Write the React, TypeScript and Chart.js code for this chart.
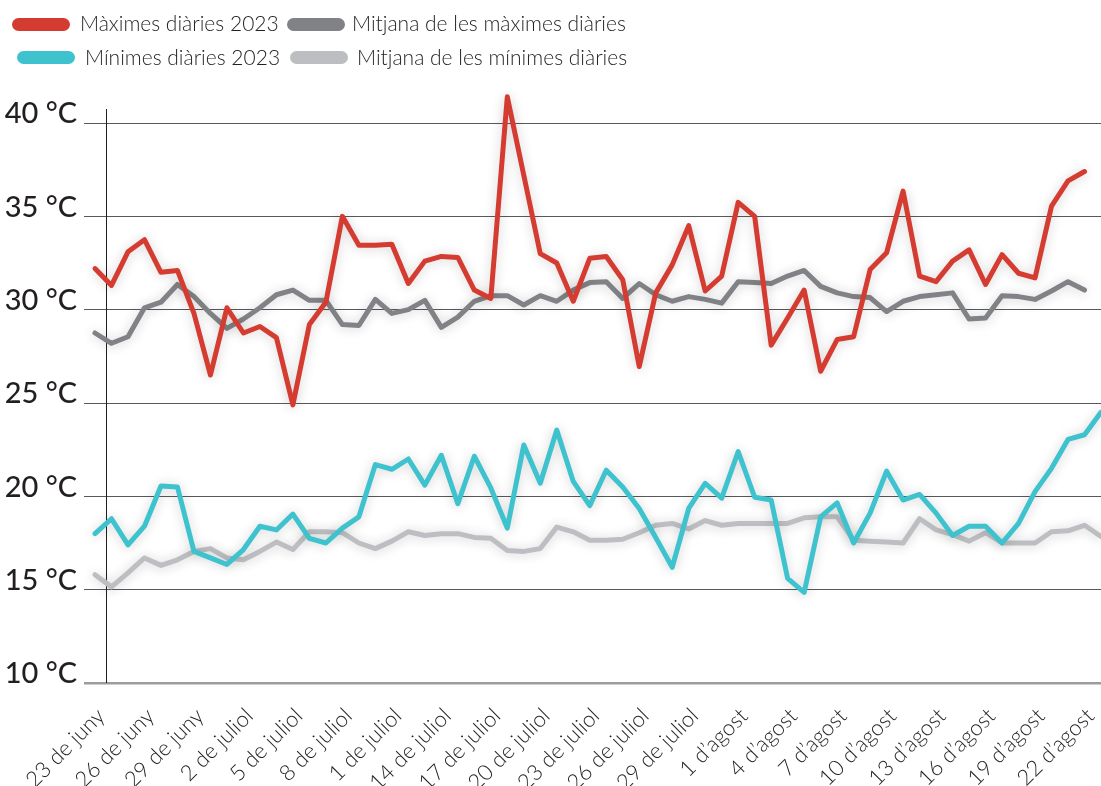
import React, { useEffect, useRef } from "react";
import { Chart, registerables } from "chart.js";

Chart.register(...registerables);

// 23 de juny .. 23 d'agost 2023 (one entry per day)
const days = [
  "23/6", "24/6", "25/6", "26/6", "27/6", "28/6", "29/6", "30/6",
  "1/7", "2/7", "3/7", "4/7", "5/7", "6/7", "7/7", "8/7", "9/7", "10/7", "11/7", "12/7",
  "13/7", "14/7", "15/7", "16/7", "17/7", "18/7", "19/7", "20/7", "21/7", "22/7", "23/7",
  "24/7", "25/7", "26/7", "27/7", "28/7", "29/7", "30/7", "31/7",
  "1/8", "2/8", "3/8", "4/8", "5/8", "6/8", "7/8", "8/8", "9/8", "10/8", "11/8", "12/8",
  "13/8", "14/8", "15/8", "16/8", "17/8", "18/8", "19/8", "20/8", "21/8", "22/8", "23/8",
];

// x tick labels, one every 3 days (as printed in the original)
const tickLabels = [
  "23 de juny", "26 de juny", "29 de juny", "2 de juliol", "5 de juliol", "8 de juliol",
  "1 de juliol", "14 de juliol", "17 de juliol", "20 de juliol", "23 de juliol",
  "26 de juliol", "29 de juliol", "1 d\u2019agost", "4 d\u2019agost", "7 d\u2019agost",
  "10 d\u2019agost", "13 d\u2019agost", "16 d\u2019agost", "19 d\u2019agost", "22 d\u2019agost",
];

const yTicks = [10, 15, 20, 25, 30, 35, 40];

const seriesNames = [
  "M\u00e0ximes di\u00e0ries 2023",
  "M\u00ednimes di\u00e0ries 2023",
  "Mitjana de les m\u00e0ximes di\u00e0ries",
  "Mitjana de les m\u00ednimes di\u00e0ries",
];

const dailyMax = [
  32.2, 31.3, 33.1, 33.75, 32.0, 32.1, 29.8, 26.5, 30.1, 28.75,
  29.1, 28.5, 24.9, 29.2, 30.4, 35.0, 33.45, 33.45, 33.5, 31.4,
  32.6, 32.85, 32.8, 31.05, 30.6, 41.4, 37.2, 33.0, 32.5, 30.45,
  32.75, 32.85, 31.6, 26.95, 30.9, 32.4, 34.5, 31.0, 31.8, 35.75,
  35.0, 28.1, 29.55, 31.05, 26.7, 28.4, 28.55, 32.15, 33.05, 36.35,
  31.8, 31.5, 32.6, 33.2, 31.35, 32.95, 31.95, 31.7, 35.55, 36.9,
  37.4, null,
];

const dailyMin = [
  18.0, 18.8, 17.4, 18.4, 20.55, 20.5, 17.05, 16.7, 16.35, 17.15,
  18.4, 18.2, 19.05, 17.75, 17.5, 18.3, 18.9, 21.7, 21.45, 22.0,
  20.6, 22.2, 19.6, 22.15, 20.45, 18.3, 22.75, 20.7, 23.55, 20.8,
  19.5, 21.4, 20.5, 19.35, 17.8, 16.2, 19.35, 20.7, 19.9, 22.4,
  19.95, 19.8, 15.6, 14.85, 18.9, 19.65, 17.5, 19.1, 21.35, 19.8,
  20.1, 19.1, 17.9, 18.4, 18.4, 17.5, 18.55, 20.25, 21.5, 23.05,
  23.3, 24.5,
];

const meanMax = [
  28.75, 28.2, 28.55, 30.1, 30.4, 31.35, 30.7, 29.8, 29.0, 29.5,
  30.1, 30.8, 31.05, 30.5, 30.5, 29.2, 29.15, 30.55, 29.8, 30.0,
  30.5, 29.05, 29.6, 30.45, 30.75, 30.75, 30.25, 30.75, 30.45, 31.05,
  31.45, 31.5, 30.6, 31.4, 30.8, 30.45, 30.7, 30.55, 30.35, 31.5,
  31.45, 31.4, 31.8, 32.1, 31.25, 30.9, 30.7, 30.65, 29.9, 30.45,
  30.7, 30.8, 30.9, 29.5, 29.55, 30.75, 30.7, 30.55, 31.0, 31.5,
  31.05, null,
];

const meanMin = [
  15.8, 15.15, 15.9, 16.7, 16.3, 16.6, 17.05, 17.2, 16.7, 16.6,
  17.05, 17.55, 17.15, 18.1, 18.1, 18.05, 17.5, 17.2, 17.6, 18.1,
  17.9, 18.0, 18.0, 17.8, 17.75, 17.1, 17.05, 17.2, 18.35, 18.1,
  17.65, 17.65, 17.7, 18.05, 18.45, 18.55, 18.25, 18.7, 18.45, 18.55,
  18.55, 18.55, 18.55, 18.85, 18.9, 18.9, 17.65, 17.6, 17.55, 17.5,
  18.8, 18.2, 17.95, 17.6, 18.05, 17.5, 17.5, 17.5, 18.1, 18.15,
  18.45, 17.85,
];

const RED = "#d53c31";
const CYAN = "#3ec2ce";
const DGRAY = "#808285";
const LGRAY = "#bdbec1";
const INK = "#231f20";
const FONT = "Lato, 'Open Sans', sans-serif";

const shadowPlugin = {
  id: "lineShadow",
  beforeDatasetDraw(chart: any) {
    const ctx = chart.ctx;
    ctx.save();
    ctx.shadowColor = "rgba(0,0,0,0.2)";
    ctx.shadowBlur = 12;
    ctx.shadowOffsetY = 1;
  },
  afterDatasetDraw(chart: any) {
    chart.ctx.restore();
  },
};

const axisLinePlugin = {
  id: "axisLine",
  beforeDatasetsDraw(chart: any) {
    const { ctx, chartArea } = chart;
    const x = Math.round(chartArea.left + 11) + 0.5;
    ctx.save();
    ctx.strokeStyle = INK;
    ctx.lineWidth = 1;
    ctx.beginPath();
    ctx.moveTo(x, chartArea.top);
    ctx.lineTo(x, chartArea.bottom);
    ctx.stroke();
    ctx.restore();
  },
};

function lineDs(label: string, data: (number | null)[], color: string) {
  return {
    label,
    data,
    borderColor: color,
    backgroundColor: color,
    borderWidth: 5,
    pointRadius: 0,
    pointHoverRadius: 0,
    tension: 0,
    borderJoinStyle: "round" as const,
    borderCapStyle: "round" as const,
    clip: false as const,
    fill: false,
  };
}

export default function App() {
  const ref = useRef<HTMLCanvasElement>(null);

  useEffect(() => {
    document.body.style.margin = "0";
    const canvas = ref.current;
    if (!canvas) return;
    const chart = new Chart(canvas, {
      type: "line",
      data: {
        labels: days,
        datasets: [
          lineDs(seriesNames[0], dailyMax, RED),
          lineDs(seriesNames[1], dailyMin, CYAN),
          lineDs(seriesNames[2], meanMax, DGRAY),
          lineDs(seriesNames[3], meanMin, LGRAY),
        ],
      },
      options: {
        responsive: false,
        animation: false,
        events: [],
        layout: { padding: { top: 109, left: 0, right: 0, bottom: 0 } },
        plugins: {
          legend: { display: false },
          tooltip: { enabled: false },
        },
        scales: {
          x: {
            type: "category",
            offset: false,
            grid: { display: false },
            border: { display: false },
            ticks: {
              autoSkip: false,
              maxRotation: 45,
              minRotation: 45,
              padding: 12,
              labelOffset: 6,
              color: INK,
              font: { family: FONT, size: 22, weight: "300" },
              callback: (_v: any, i: number) => (i % 3 === 0 ? tickLabels[i / 3] : null),
            },
            afterFit: (s: any) => {
              s.height = 103;
              s.paddingLeft = 0;
              s.paddingRight = 0;
            },
          },
          y: {
            type: "linear",
            min: 10,
            max: 40.75,
            afterBuildTicks: (s: any) => {
              s.ticks = yTicks.map((v) => ({ value: v }));
            },
            border: { display: false },
            grid: {
              drawTicks: true,
              tickLength: 11,
              color: (c: any) => (c.tick && c.tick.value === 10 ? "#9c9c9c" : "#58595b"),
              lineWidth: (c: any) => (c.tick && c.tick.value === 10 ? 2.5 : 1),
            },
            ticks: {
              padding: 7,
              labelOffset: -9,
              color: INK,
              font: { family: FONT, size: 29, weight: "500" },
              callback: (v: any) => `${v} \u00b0C`,
            },
            afterFit: (s: any) => {
              s.width = 95;
            },
          },
        },
      },
      plugins: [axisLinePlugin, shadowPlugin],
    } as any);
    return () => chart.destroy();
  }, []);

  const marker = (color: string): React.CSSProperties => ({
    position: "absolute",
    width: 58,
    height: 13,
    borderRadius: 7,
    background: color,
  });
  const text: React.CSSProperties = {
    position: "absolute",
    fontFamily: FONT,
    fontSize: 21,
    fontWeight: 300,
    lineHeight: "24px",
    color: INK,
    whiteSpace: "nowrap",
  };

  return (
    <div style={{ position: "relative", width: 1101, height: 786, background: "#fff", overflow: "hidden" }}>
      <canvas ref={ref} width={1101} height={786} style={{ position: "absolute", left: 0, top: 0 }} />
      <div style={{ ...marker(RED), left: 12, top: 18 }} />
      <div style={{ ...text, left: 80, top: 11 }}>{seriesNames[0]}</div>
      <div style={{ ...marker(DGRAY), left: 287, top: 18 }} />
      <div style={{ ...text, left: 352, top: 11 }}>{seriesNames[2]}</div>
      <div style={{ ...marker(CYAN), left: 17, top: 51 }} />
      <div style={{ ...text, left: 85, top: 45 }}>{seriesNames[1]}</div>
      <div style={{ ...marker(LGRAY), left: 290, top: 51 }} />
      <div style={{ ...text, left: 357, top: 45 }}>{seriesNames[3]}</div>
    </div>
  );
}
